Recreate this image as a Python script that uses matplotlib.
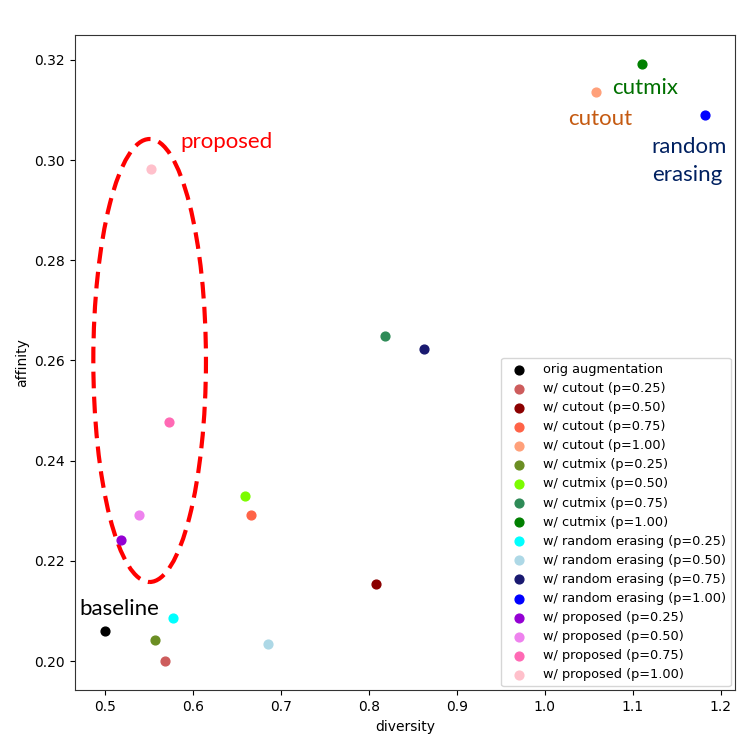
import matplotlib.pyplot as plt
from matplotlib.patches import Ellipse

# 数据
labels = ['orig augmentation',
          'w/ cutout (p=0.25)', 'w/ cutout (p=0.50)', 'w/ cutout (p=0.75)', 'w/ cutout (p=1.00)',
          'w/ cutmix (p=0.25)', 'w/ cutmix (p=0.50)', 'w/ cutmix (p=0.75)', 'w/ cutmix (p=1.00)',
          'w/ random erasing (p=0.25)', 'w/ random erasing (p=0.50)',
          'w/ random erasing (p=0.75)', 'w/ random erasing (p=1.00)',
          'w/ proposed (p=0.25)', 'w/ proposed (p=0.50)', 'w/ proposed (p=0.75)', 'w/ proposed (p=1.00)']
diversity = [0.500,
             0.569, 0.808, 0.666, 1.058,
             0.557, 0.659, 0.818, 1.111,
             0.577, 0.685, 0.8625, 1.182,
             0.519, 0.539, 0.573, 0.553]
affinity = [0.2060,
            0.2001, 0.2154, 0.2291, 0.3135,
            0.2042, 0.2329, 0.2648, 0.3191,
            0.2086, 0.2034, 0.2623, 0.3090,
            0.2242, 0.2291, 0.2477, 0.2982]
colors = ['black',
          'indianred', 'darkred', 'tomato', 'lightsalmon',
          'olivedrab', 'lawngreen', 'seagreen', 'green',
          'cyan', 'lightblue', 'midnightblue', 'blue',
          'darkviolet', 'violet', 'hotpink', 'pink']

fig, ax = plt.subplots(figsize=(7.56, 7.56), dpi=100)
fig.subplots_adjust(left=0.099, right=0.972, bottom=0.087, top=0.954)

for x, y, c, lab in zip(diversity, affinity, colors, labels):
    ax.scatter(x, y, color=c, label=lab, s=40, zorder=3)

ax.set_xlim(0.466, 1.216)
ax.set_ylim(0.1942, 0.325)
ax.set_xlabel('diversity')
ax.set_ylabel('affinity')

for sp in ax.spines.values():
    sp.set_color('#333333')

ax.legend(loc='lower right', fontsize=9.3, borderaxespad=0.3, labelspacing=0.47)

# 手动标注
ax.add_patch(Ellipse((0.551, 0.2600), 0.128, 0.0884, fill=False, edgecolor='red',
                     linestyle=(0, (4, 2)), linewidth=3, zorder=2))
ann = dict(family=['Lato', 'DejaVu Sans'], fontsize=16)
ax.text(0.586, 0.3036, 'proposed', color='red', va='center', **ann)
ax.text(0.4716, 0.2105, 'baseline', color='black', va='center', **ann)
ax.text(1.077, 0.3144, 'cutmix', color='#007000', va='center', **ann)
ax.text(1.026, 0.3082, 'cutout', color='#C55A11', va='center', **ann)
ax.text(1.1216, 0.2998, 'random\nerasing', color='#002060', va='center',
        linespacing=1.45, **ann)

plt.savefig('out.png')
